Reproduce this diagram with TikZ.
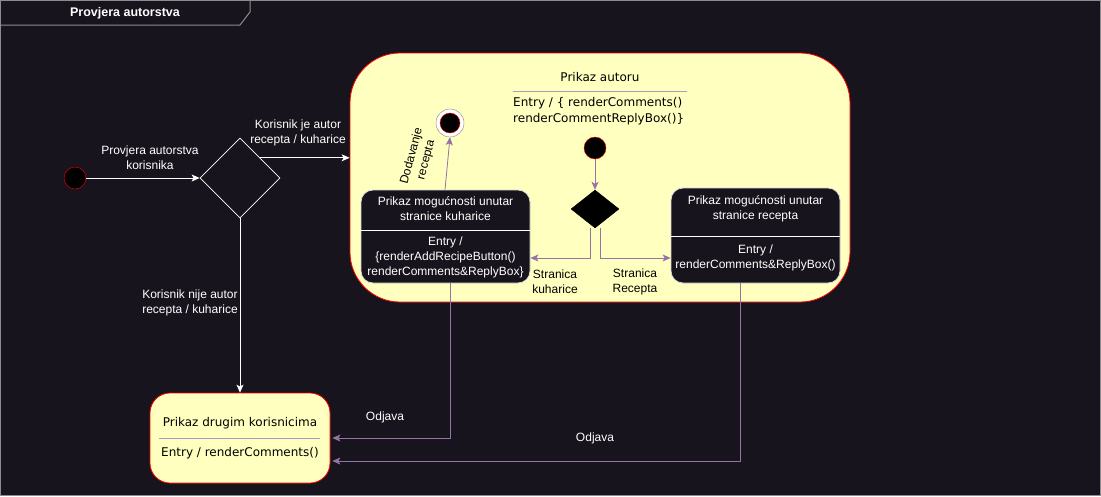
\documentclass[tikz,border=0pt]{standalone}
\usepackage{fontspec}
\setmainfont{Liberation Sans}
\newfontfamily\boxfont{DejaVu Sans}
\usetikzlibrary{arrows.meta,shapes.geometric}
\definecolor{bg}{HTML}{18141D}
\definecolor{noteyellow}{HTML}{FFFFC0}
\definecolor{linkpurple}{HTML}{9673A6}
\definecolor{framegray}{HTML}{8C8C8C}
\definecolor{sepline}{HTML}{A99BC0}

\begin{document}
\begin{tikzpicture}[x=1pt,y=-1pt,
  font=\fontsize{12}{15}\selectfont,
  lbl/.style={text=white, align=center, inner sep=0pt},
  sublbl/.style={text=black, align=center, inner sep=0pt},
  boxtext/.style={text=black, font=\boxfont\fontsize{12}{16}\selectfont, inner sep=0pt},
  yellowstate/.style={draw=red, fill=noteyellow, line width=0.8pt},
  darkstate/.style={draw=white!85!black, fill=bg, rounded corners=12pt, line width=0.8pt},
  startdot/.style={circle, draw=red, fill=black, minimum size=22pt, inner sep=0pt},
  flow/.style={-{Stealth[length=8pt,width=7pt,inset=2pt]}, white, line width=0.8pt},
  pflow/.style={-{Stealth[length=8pt,width=7pt,inset=2pt]}, linkpurple, line width=0.8pt},
]
\useasboundingbox (0,0) rectangle (1101,496);
\fill[bg] (0,0) rectangle (1101,496);

% frame and its title tab
\draw[framegray, line width=1pt] (0.5,0.5) rectangle (1100.5,495.5);
\draw[framegray, line width=1pt] (0,25) -- (240,25) -- (250,12) -- (250,0);
\node[lbl, font=\bfseries\fontsize{12.5}{14}\selectfont] (title) at (125,13) {Provjera autorstva};

% choice about the user
\node[startdot] (start) at (75,178) {};
\node[diamond, draw=white, line width=0.8pt, minimum width=80pt, minimum height=80pt, inner sep=0pt] (check) at (240,178) {};
\draw[flow] (start) -- (check.west);
\node[lbl] (startlbl) at (150,158) {Provjera autorstva\\korisnika};

% composite state
\node[yellowstate, rounded corners=50pt, minimum width=500pt, minimum height=249pt] (autor) at (600,177.5) {};
\node[boxtext] (autortitle) at (600,77) {Prikaz autoru};
\draw[sepline, line width=0.8pt] (513,91) -- (687,91);
\node[boxtext, anchor=north west, align=left] (autorentry) at (513,97) {Entry / \{ renderComments()\\renderCommentReplyBox()\}};

\draw[flow] (check.north east) -- (check.north east -| autor.west);
\node[lbl] (yeslbl) at (298,133) {Korisnik je autor\\recepta / kuharice};

% inside the composite
\node[startdot] (innerstart) at (595,148) {};
\node[diamond, fill=black, draw=black, minimum width=48pt, minimum height=38pt, inner sep=0pt] (fork) at (595,209) {};
\draw[pflow] (innerstart) -- (fork.north);

\node[darkstate, minimum width=169pt, minimum height=93pt] (kuh) at (445.5,236.5) {};
\node[lbl] (kuhtitle) at (445.5,209) {Prikaz mogućnosti unutar\\stranice kuharice};
\draw[white, line width=0.8pt] (361,230) -- (530,230);
\node[lbl] (kuhentry) at (445.5,257) {Entry /\\\{renderAddRecipeButton()\\renderComments\&ReplyBox\}};

\node[darkstate, minimum width=169pt, minimum height=95pt] (rec) at (755.5,235.5) {};
\node[lbl] (rectitle) at (755.5,209) {Prikaz mogućnosti unutar\\stranice recepta};
\draw[white, line width=0.8pt] (671,236) -- (840,236);
\node[lbl] (recentry) at (755.5,258) {Entry /\\renderComments\&ReplyBox()};

\draw[pflow] ([xshift=-5pt]fork.south) |- ([yshift=-21.5pt]kuh.east);
\draw[pflow] ([xshift=5pt]fork.south) |- ([yshift=-22.5pt]rec.west);
\node[sublbl] (kuhlbl) at (555,282) {Stranica\\kuharice};
\node[sublbl] (reclbl) at (635,282) {Stranica\\Recepta};

\node[circle, draw=gray, fill=white, minimum size=28pt, inner sep=0pt] (stop) at (450,123) {};
\node[circle, draw=red, fill=black, minimum size=20pt, inner sep=0pt] (stopdot) at (stop) {};
\draw[pflow] ([xshift=-0.5pt]kuh.north) -- (stop.south);
\node[sublbl, rotate=75] (addlbl) at (419,158) {Dodavanje\\recepta};

% other users
\node[yellowstate, rounded corners=20pt, minimum width=180pt, minimum height=90pt] (others) at (240,438) {};
\node[boxtext] (otherstitle) at (240,423) {Prikaz drugim korisnicima};
\draw[sepline, line width=0.8pt] (159,438) -- (320,438);
\node[boxtext] (othersentry) at (240,453) {Entry / renderComments()};

\draw[flow] (check.south) -- (others.north);
\node[lbl] (nolbl) at (190,303) {Korisnik nije autor\\recepta / kuharice};

% logging out
\draw[pflow] ([xshift=4.5pt]kuh.south) |- ([xshift=2pt]others.east);
\draw[pflow] ([xshift=-15.5pt]rec.south) |- ([xshift=2pt,yshift=-23pt]others.east);
\node[lbl] (outlbl1) at (385,417) {Odjava};
\node[lbl] (outlbl2) at (595,438) {Odjava};
\end{tikzpicture}
\end{document}
